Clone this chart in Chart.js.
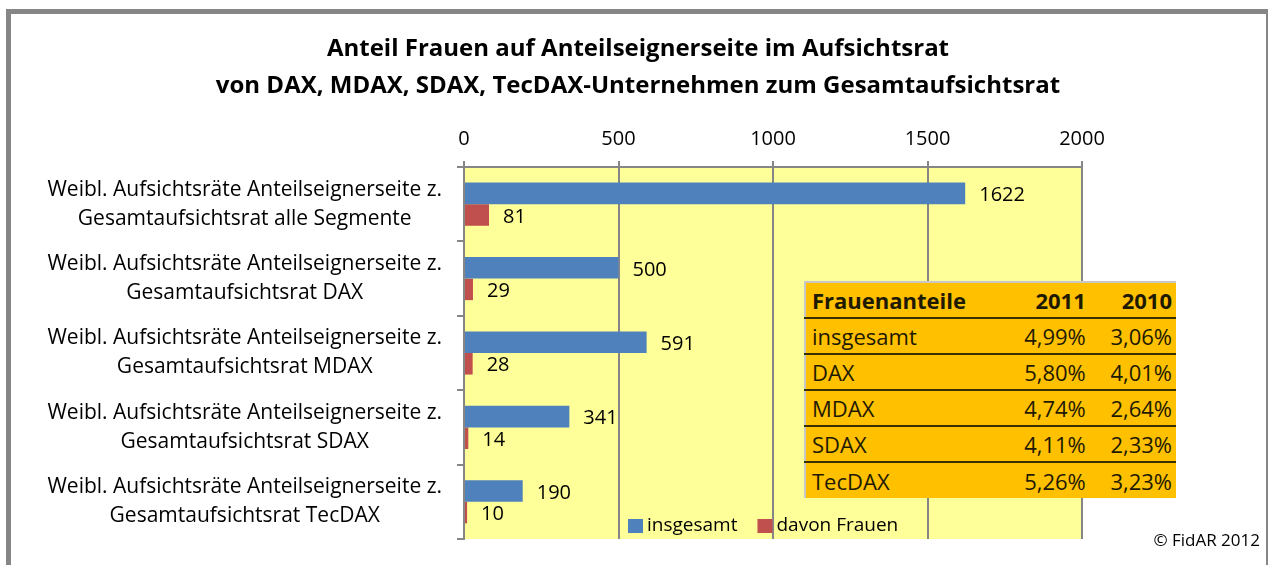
<!DOCTYPE html>
<html>
<head>
<meta charset="utf-8">
<script src="https://cdn.jsdelivr.net/npm/chart.js@4/dist/chart.umd.min.js"></script>
<style>
  html, body { margin: 0; padding: 0; background: #fff; }
  #wrap { position: relative; width: 1268px; height: 565px; overflow: hidden; font-family: 'Open Sans', sans-serif; }
  #chart { position: absolute; left: 0; top: 0; }
  #title { position: absolute; left: 0; top: 28px; width: 1276px; text-align: center;
    font-weight: bold; font-size: 24px; line-height: 37px; color: #000; }
  #frame { position: absolute; left: 6px; top: 9px; width: 1255px; height: 600px;
    border-left: 5px solid #868686; border-top: 5px solid #868686; border-right: 2px solid #868686; pointer-events: none; }
  #shares { position: absolute; left: 804px; top: 281px; width: 372px; border-collapse: collapse;
    background: #FFC000; font-size: 22px; color: #1e1a00; border-left: 2px solid #c8c8c8; border-top: 2px solid #c8c8c8; }
  #shares td, #shares th { height: 34px; padding: 0 4px 0 6px; border-bottom: 2px solid #3c3000; }
  #shares tr:last-child td { border-bottom: none; height: 35px; }
  #shares th { font-weight: bold; text-align: right; }
  #shares th:first-child, #shares td:first-child { text-align: left; }
  #shares td { text-align: right; }
  #copy { position: absolute; right: 8px; top: 528px; font-size: 17px; color: #000; }
</style>
</head>
<body>
<div id="wrap">
  <canvas id="chart" width="1268" height="565"></canvas>
  <div id="title">Anteil Frauen auf Anteilseignerseite im Aufsichtsrat<br>von DAX, MDAX, SDAX, TecDAX-Unternehmen zum Gesamtaufsichtsrat</div>
  <table id="shares"></table>
  <div id="copy">© FidAR 2012</div>
  <div id="frame"></div>
</div>
<script>
// Kategorien (zweizeilig) und Werte
const categories = [
  ['Weibl. Aufsichtsräte Anteilseignerseite z.', 'Gesamtaufsichtsrat alle Segmente'],
  ['Weibl. Aufsichtsräte Anteilseignerseite z.', 'Gesamtaufsichtsrat DAX'],
  ['Weibl. Aufsichtsräte Anteilseignerseite z.', 'Gesamtaufsichtsrat MDAX'],
  ['Weibl. Aufsichtsräte Anteilseignerseite z.', 'Gesamtaufsichtsrat SDAX'],
  ['Weibl. Aufsichtsräte Anteilseignerseite z.', 'Gesamtaufsichtsrat TecDAX'],
];
const insgesamt = [1622, 500, 591, 341, 190];
const davonFrauen = [81, 29, 28, 14, 10];
const seriesNames = ['insgesamt', 'davon Frauen'];
const xMin = 0, xMax = 2000, xStep = 500;

// Tabelle Frauenanteile
const tableHead = ['Frauenanteile', '2011', '2010'];
const tableRows = ['insgesamt', 'DAX', 'MDAX', 'SDAX', 'TecDAX'];
const share2011 = ['4,99%', '5,80%', '4,74%', '4,11%', '5,26%'];
const share2010 = ['3,06%', '4,01%', '2,64%', '2,33%', '3,23%'];

const tbl = document.getElementById('shares');
let html = '<tr>' + tableHead.map(h => '<th>' + h + '</th>').join('') + '</tr>';
tableRows.forEach((r, i) => {
  html += '<tr><td>' + r + '</td><td>' + share2011[i] + '</td><td>' + share2010[i] + '</td></tr>';
});
tbl.innerHTML = html;

const FONT = "'Open Sans'";
const GRID = '#868686';

const plotBg = {
  id: 'plotBg',
  beforeDraw(chart) {
    const { ctx, chartArea: a } = chart;
    ctx.save();
    ctx.fillStyle = '#FFFF99';
    ctx.fillRect(a.left, a.top, a.right - a.left, a.bottom - a.top);
    ctx.restore();
  }
};

const valueLabels = {
  id: 'valueLabels',
  afterDatasetsDraw(chart) {
    const ctx = chart.ctx;
    ctx.save();
    ctx.font = '20px ' + FONT;
    ctx.fillStyle = '#000';
    ctx.textBaseline = 'middle';
    ctx.textAlign = 'left';
    chart.data.datasets.forEach((ds, i) => {
      chart.getDatasetMeta(i).data.forEach((bar, j) => {
        ctx.fillText(String(ds.data[j]), bar.x + 14, bar.y + 2);
      });
    });
    ctx.restore();
  }
};

const innerLegend = {
  id: 'innerLegend',
  afterDraw(chart) {
    const ctx = chart.ctx;
    ctx.save();
    ctx.font = '19px ' + FONT;
    ctx.textBaseline = 'middle';
    let x = 628;
    const y = 526;
    chart.data.datasets.forEach(ds => {
      ctx.fillStyle = ds.backgroundColor;
      ctx.fillRect(x, y - 7, 15, 14);
      ctx.fillStyle = '#000';
      ctx.fillText(ds.label, x + 19, y);
      x += 19 + ctx.measureText(ds.label).width + 20;
    });
    ctx.restore();
  }
};

new Chart(document.getElementById('chart'), {
  type: 'bar',
  data: {
    labels: categories,
    datasets: [
      { label: seriesNames[0], data: insgesamt, backgroundColor: '#4F81BD' },
      { label: seriesNames[1], data: davonFrauen, backgroundColor: '#C0504D' },
    ],
  },
  options: {
    indexAxis: 'y',
    responsive: false,
    animation: false,
    devicePixelRatio: 1,
    layout: { padding: { left: 10, right: 186, top: 112, bottom: 26 } },
    datasets: { bar: { categoryPercentage: 0.58, barPercentage: 1 } },
    plugins: {
      legend: { display: false },
      tooltip: { enabled: false },
      title: { display: false },
    },
    scales: {
      x: {
        position: 'top',
        min: xMin,
        max: xMax,
        ticks: { stepSize: xStep, color: '#000', font: { family: FONT, size: 20 }, padding: 10,
                 callback: v => String(v) },
        grid: { color: GRID, lineWidth: 2, tickLength: 6 },
        border: { color: GRID, width: 2 },
        afterFit(scale) { scale.height = 55; },
      },
      y: {
        ticks: { color: '#000', font: { family: FONT, size: 21, lineHeight: '29px' }, crossAlign: 'center', padding: 15, autoSkip: false },
        grid: { color: GRID, lineWidth: 2, tickLength: 7, drawOnChartArea: false, offset: true },
        border: { color: GRID, width: 2 },
        afterFit(scale) {
          scale.width = 454;
          scale.paddingTop = 0;
          scale.paddingBottom = 0;
        },
      },
    },
  },
  plugins: [plotBg, valueLabels, innerLegend],
});
</script>
</body>
</html>
